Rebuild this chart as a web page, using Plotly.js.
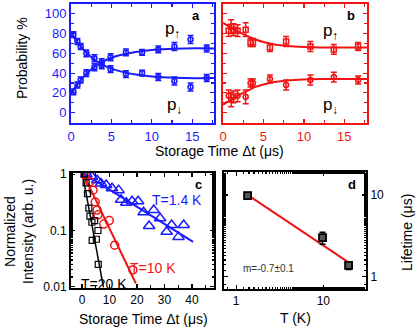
<!DOCTYPE html>
<html>
<head>
<meta charset="utf-8">
<script src="https://cdn.plot.ly/plotly-3.0.1.min.js"></script>
<style>
  html, body { margin: 0; padding: 0; background: #fff; }
  #chart { width: 416px; height: 330px; }
</style>
</head>
<body>
<div id="chart"></div>
<script>
// panel a (blue): probabilities vs storage time
const tA = [0.3, 0.8, 1.2, 1.9, 2.9, 3.8, 4.9, 6.8, 8.8, 10.8, 12.8, 14.8, 16.8];
const upA = [21, 28, 33, 40, 46, 51, 56, 61, 61, 64, 67, 74, 65];
const downA = [79, 72, 67, 60, 55, 48, 44, 39, 40, 36, 32, 26, 35];
const errA = [3, 3, 3, 3.5, 3.5, 3.5, 3.5, 3.5, 3, 3.5, 4, 4, 3.5];
const fitTA = [0, 1, 2, 3, 4, 5, 6, 8, 10, 12, 14, 17.7];
const fitUpA = [20, 31, 40, 47, 52, 55.5, 58, 61.5, 63.5, 64.5, 65, 65];
const fitDownA = [80, 69, 60, 53, 48, 44.5, 42, 38.5, 36.5, 35.5, 35, 35];

// panel b (red)
const tB = [0.7, 1.0, 1.3, 1.8, 2.8, 3.4, 3.7, 5.8, 7.8, 10.8, 13.7, 16.7];
const upB = [83, 87, 84, 83, 84, 71, 71, 66, 72, 67, 64, 67];
const downB = [17, 13, 16, 17, 16, 30, 30, 34, 28, 33, 36, 33];
const errB = [6, 7, 6, 6, 7, 4, 4, 4, 5, 5, 5, 4];
const fitTB = [0, 1, 2, 3, 4, 5, 6, 8, 10, 12, 17.8];
const fitUpB = [91, 86, 81.5, 77.5, 74, 71.5, 69.5, 67.5, 66.5, 66, 66];
const fitDownB = [8, 13, 18, 22, 26, 28.5, 30.5, 32.5, 33.5, 34, 34];

// panel c: normalized intensity (log)
const tBlue = [1.6, 3.6, 5.5, 6.9, 8.8, 10.9, 13.3, 14.2, 16.1, 18.2, 20.4, 22.4, 24.4, 26.1, 28.4, 30.8, 32.6, 35.1, 37.0];
const vBlue = [1.0, 0.9, 0.78, 0.68, 0.64, 0.56, 0.52, 0.35, 0.31, 0.33, 0.33, 0.21, 0.12, 0.23, 0.165, 0.095, 0.125, 0.077, 0.125];
const tRed = [1.2, 2.8, 4.0, 4.8, 5.5, 5.8, 7.9, 9.9, 11.9, 18.5];
const vRed = [0.96, 0.73, 0.52, 0.32, 0.23, 0.19, 0.13, 0.15, 0.055, 0.02];
const tBlack = [0.8, 1.5, 2.0, 2.5, 2.9, 3.6, 4.6, 5.8, 3.7, 5.2, 5.9];
const vBlack = [1.0, 0.7, 0.45, 0.25, 0.18, 0.14, 0.15, 0.1, 0.067, 0.07, 0.025];
const fitBlueT = [0.6, 40.4];
const fitBlueV = [1.03, 0.063];
const fitRedT = [0.5, 19.6];
const fitRedV = [1.0, 0.0115];
const fitBlackT = [0.2, 7.8];
const fitBlackV = [1.0, 0.0098];

// panel d: lifetime vs temperature
const temps = [1.35, 9.8, 19.5];
const lifetimes = [9.8, 3.0, 1.38];
const lifeErr = [0.9, 0.5, 0.15];
const fitT = [1.35, 19.5];
const fitLife = [10, 1.5];

const BLUE = "#1a1aff";
const RED = "#f01414";
const FONT = "Liberation Sans, Arial, sans-serif";

const errSty = (arr, c) => ({ type: "data", array: arr, visible: true, color: c, thickness: 1.5, width: 3 });

const traces = [
  { x: fitTA, y: fitUpA, mode: "lines", line: { color: BLUE, width: 2, shape: "spline" }, xaxis: "x", yaxis: "y" },
  { x: fitTA, y: fitDownA, mode: "lines", line: { color: BLUE, width: 2, shape: "spline" }, xaxis: "x", yaxis: "y" },
  { x: tA, y: upA, mode: "markers", error_y: errSty(errA, BLUE),
    marker: { symbol: "circle-open", size: 5, color: BLUE, line: { width: 1.5 } }, xaxis: "x", yaxis: "y" },
  { x: tA, y: downA, mode: "markers", error_y: errSty(errA, BLUE),
    marker: { symbol: "circle-open", size: 5, color: BLUE, line: { width: 1.5 } }, xaxis: "x", yaxis: "y" },

  { x: fitTB, y: fitUpB, mode: "lines", line: { color: RED, width: 2, shape: "spline" }, xaxis: "x2", yaxis: "y2" },
  { x: fitTB, y: fitDownB, mode: "lines", line: { color: RED, width: 2, shape: "spline" }, xaxis: "x2", yaxis: "y2" },
  { x: tB, y: upB, mode: "markers", error_y: errSty(errB, RED),
    marker: { symbol: "square-open", size: 5, color: RED, line: { width: 1.5 } }, xaxis: "x2", yaxis: "y2" },
  { x: tB, y: downB, mode: "markers", error_y: errSty(errB, RED),
    marker: { symbol: "circle-open", size: 5, color: RED, line: { width: 1.5 } }, xaxis: "x2", yaxis: "y2" },

  { x: fitBlueT, y: fitBlueV, mode: "lines", line: { color: BLUE, width: 2 }, xaxis: "x3", yaxis: "y3" },
  { x: fitRedT, y: fitRedV, mode: "lines", line: { color: RED, width: 2 }, xaxis: "x3", yaxis: "y3" },
  { x: fitBlackT, y: fitBlackV, mode: "lines", line: { color: "black", width: 1.5 }, xaxis: "x3", yaxis: "y3" },
  { x: tBlue, y: vBlue, mode: "markers", marker: { symbol: "triangle-up-open", size: 10, color: BLUE, line: { width: 1.5 } }, xaxis: "x3", yaxis: "y3" },
  { x: tRed, y: vRed, mode: "markers", marker: { symbol: "circle-open", size: 8, color: RED, line: { width: 1.5 } }, xaxis: "x3", yaxis: "y3" },
  { x: tBlack, y: vBlack, mode: "markers", marker: { symbol: "square-open", size: 6, color: "black", line: { width: 1.2 } }, xaxis: "x3", yaxis: "y3" },

  { x: fitT, y: fitLife, mode: "lines", line: { color: RED, width: 2 }, xaxis: "x4", yaxis: "y4" },
  { x: temps, y: lifetimes, mode: "markers", error_y: errSty(lifeErr, "black"),
    marker: { symbol: "square", size: 7, color: "#555", line: { color: "black", width: 1.8 } }, xaxis: "x4", yaxis: "y4" },
];

function ax(color, extra) {
  return Object.assign({
    showline: true, linecolor: color, linewidth: 2, mirror: "allticks",
    ticks: "inside", ticklen: 4, tickcolor: color, tickwidth: 1.2,
    showgrid: false, zeroline: false,
    tickfont: { family: FONT, size: 13, color: color },
  }, extra);
}

const layout = {
  width: 416, height: 330,
  margin: { l: 0, r: 0, t: 0, b: 0 },
  paper_bgcolor: "white", plot_bgcolor: "white",
  showlegend: false,
  font: { family: FONT, color: "black" },
  xaxis: ax(BLUE, { domain: [0.1707, 0.5144], range: [0, 17.7], dtick: 5, anchor: "y",
    minor: { dtick: 2.5, ticks: "inside", ticklen: 3, tickcolor: BLUE } }),
  yaxis: ax(BLUE, { domain: [0.6273, 0.9879], range: [-10.5, 110], dtick: 20, anchor: "x",
    minor: { dtick: 10, ticks: "inside", ticklen: 3, tickcolor: BLUE } }),
  xaxis2: ax(RED, { domain: [0.5361, 0.8822], range: [0, 17.8], dtick: 5, anchor: "y2",
    minor: { dtick: 2.5, ticks: "inside", ticklen: 3, tickcolor: RED } }),
  yaxis2: ax(RED, { domain: [0.6273, 0.9879], range: [-10.5, 110], dtick: 20, anchor: "x2",
    showticklabels: false, minor: { dtick: 10, ticks: "inside", ticklen: 3, tickcolor: RED } }),
  xaxis3: ax("black", { domain: [0.1707, 0.5144], range: [-4, 48], tickvals: [0, 10, 20, 30, 40], anchor: "y3",
    tickfont: { family: FONT, size: 12, color: "black" },
    minor: { dtick: 5, ticks: "inside", ticklen: 3, tickcolor: "black" } }),
  yaxis3: ax("black", { domain: [0.1273, 0.4758], type: "log", range: [-2.02, 0.02], anchor: "x3",
    tickvals: [0.01, 0.1, 1], ticktext: ["0.01", "0.1", "1"],
    tickfont: { family: FONT, size: 12, color: "black" },
    minor: { ticks: "inside", ticklen: 2, tickcolor: "black" } }),
  xaxis4: ax("black", { domain: [0.5385, 0.8798], type: "log", range: [-0.14, 1.49], anchor: "y4",
    tickvals: [1, 10], ticktext: ["1", "10"],
    tickfont: { family: FONT, size: 12, color: "black" },
    minor: { ticks: "inside", ticklen: 2, tickcolor: "black" } }),
  yaxis4: ax("black", { domain: [0.1242, 0.4788], type: "log", range: [-0.15, 1.28], anchor: "x4", side: "right",
    tickvals: [1, 10], ticktext: ["1", "10"],
    tickfont: { family: FONT, size: 12, color: "black" },
    minor: { ticks: "inside", ticklen: 2, tickcolor: "black" } }),
  annotations: [
    { text: "Probability %", x: 22, y: 58, textangle: -90 },
    { text: "Storage Time \u0394t (\u03bcs)", x: 219, y: 151 },
    { text: "<b>a</b>", x: 196, y: 16, size: 13 },
    { text: "<b>b</b>", x: 351, y: 16, size: 13 },
    { text: "p<sub>\u2191</sub>", x: 172, y: 30, size: 17 },
    { text: "p<sub>\u2193</sub>", x: 174, y: 106, size: 17 },
    { text: "p<sub>\u2191</sub>", x: 330, y: 32, size: 17 },
    { text: "p<sub>\u2193</sub>", x: 330, y: 106, size: 17 },
    { text: "Normalized<br>Intensity (arb. u.)", x: 19, y: 232, textangle: -90 },
    { text: "Storage Time \u0394t (\u03bcs)", x: 143, y: 319 },
    { text: "<b>c</b>", x: 198, y: 184, size: 13 },
    { text: "T=1.4 K", x: 177, y: 200, color: BLUE },
    { text: "T=10 K", x: 153, y: 268, color: RED },
    { text: "T=20 K", x: 104, y: 284 },
    { text: "<b>d</b>", x: 352, y: 185, size: 13 },
    { text: "m=-0.7\u00b10.1", x: 268, y: 268, size: 10, color: "#333" },
    { text: "T (K)", x: 295, y: 318 },
    { text: "Lifetime (\u03bcs)", x: 407, y: 233, textangle: -90 },
  ].map((a) => ({
    text: a.text, x: a.x / 416, y: 1 - a.y / 330, xref: "paper", yref: "paper",
    xanchor: "center", yanchor: "middle", showarrow: false, textangle: a.textangle || 0,
    font: { family: FONT, size: a.size || 14, color: a.color || "black" },
  })),
};

Plotly.newPlot("chart", traces, layout, { displayModeBar: false, staticPlot: true });
</script>
</body>
</html>
